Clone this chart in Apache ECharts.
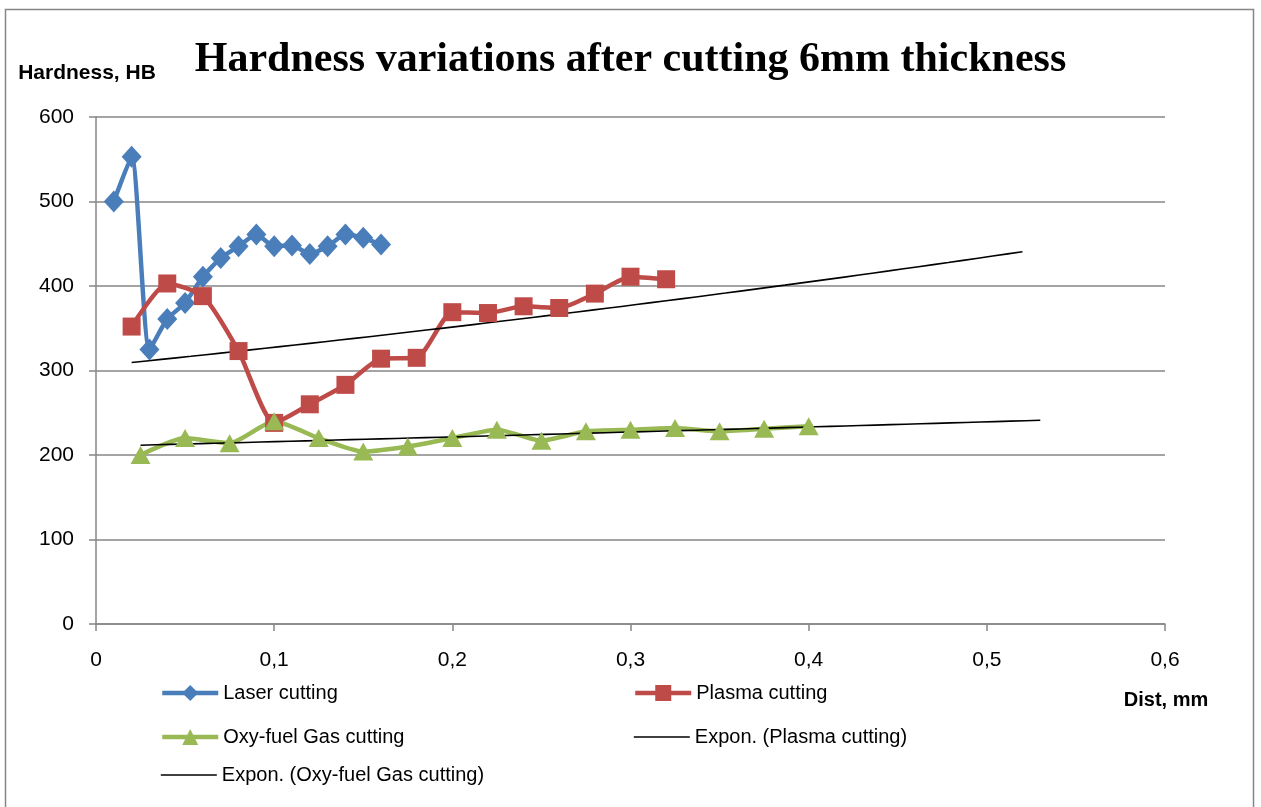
<!DOCTYPE html>
<html>
<head>
<meta charset="utf-8">
<script src="https://cdn.jsdelivr.net/npm/echarts@6/dist/echarts.min.js"></script>
<style>html,body{margin:0;padding:0;background:#fff;}#c{width:1261px;height:807px;}</style>
</head>
<body>
<div id="c"></div>
<script>
var titleText = 'Hardness variations after cutting 6mm thickness';
var yName = 'Hardness, HB';
var xName = 'Dist, mm';
var seriesNames = ['Laser cutting', 'Plasma cutting', 'Oxy-fuel Gas cutting', 'Expon. (Plasma cutting)', 'Expon. (Oxy-fuel Gas cutting)'];

var laserX = [0.01,0.02,0.03,0.04,0.05,0.06,0.07,0.08,0.09,0.10,0.11,0.12,0.13,0.14,0.15,0.16];
var laserY = [500,553,325,361,380,411,433,447,461,447,448,438,447,461,457,449];

var plasmaX = [0.02,0.04,0.06,0.08,0.10,0.12,0.14,0.16,0.18,0.20,0.22,0.24,0.26,0.28,0.30,0.32];
var plasmaY = [352,403,388,323,238,260,283,314,315,369,368,376,374,391,411,408];

var oxyX = [0.025,0.05,0.075,0.10,0.125,0.15,0.175,0.20,0.225,0.25,0.275,0.30,0.325,0.35,0.375,0.40];
var oxyY = [200,220,214,240,220,204,210,220,230,217,228,230,232,228,231,234];

// trendline forecast end points (as drawn by the spreadsheet)
var plasmaTrendEnd = 0.52;
var oxyTrendEnd = 0.53;

function pairs(xs, ys){ return xs.map(function(x,i){ return [x, ys[i]]; }); }

// exponential least-squares fit (ln y = ln a + b x)
function expFit(xs, ys, xEnd){
  var n = xs.length, sx=0, sy=0, sxx=0, sxy=0;
  for (var i=0;i<n;i++){ var ly=Math.log(ys[i]); sx+=xs[i]; sy+=ly; sxx+=xs[i]*xs[i]; sxy+=xs[i]*ly; }
  var b = (n*sxy - sx*sy)/(n*sxx - sx*sx);
  var lnA = (sy - b*sx)/n;
  var x0 = xs[0], pts=[], steps=60;
  for (var k=0;k<=steps;k++){ var x = x0 + (xEnd-x0)*k/steps; pts.push([x, Math.exp(lnA + b*x)]); }
  return pts;
}

var FONT = 'Liberation Sans, Arial, sans-serif';
var chart = echarts.init(document.getElementById('c'), null, {renderer:'canvas'});

function leg(name, left, top, isTrend){
  return {
    data: [isTrend ? {name: name, itemStyle: {opacity: 0}} : name],
    left: left, top: top, orient: 'horizontal', padding: 0,
    itemWidth: 56, itemHeight: 20, itemGap: 5,
    lineStyle: {width: isTrend ? 1.6 : 4.5},
    textStyle: {fontFamily: FONT, fontSize: 20, color: '#000'},
    selectedMode: false
  };
}

var option = {
  backgroundColor: '#fff',
  animation: false,
  title: {
    text: titleText, left: 'center', top: 34,
    textStyle: {fontFamily: 'Liberation Serif, Times New Roman, serif', fontWeight: 'bold', fontSize: 42, color: '#000'}
  },
  graphic: [{
    type: 'rect', shape: {x: 5.5, y: 9.5, width: 1248, height: 820},
    style: {fill: 'none', stroke: '#868686', lineWidth: 1.5}, silent: true, z: -1
  }],
  legend: [
    leg(seriesNames[0], 160, 683, false),
    leg(seriesNames[1], 633, 683, false),
    leg(seriesNames[2], 160, 727, false),
    leg(seriesNames[3], 633, 727, true),
    leg(seriesNames[4], 160, 765, true)
  ],
  grid: {left: 96, right: 96, top: 117, bottom: 183, containLabel: false},
  xAxis: {
    type: 'value', min: 0, max: 0.6, interval: 0.1,
    name: xName, nameLocation: 'end', nameGap: 1,
    nameTextStyle: {fontFamily: FONT, fontSize: 20, fontWeight: 'bold', color: '#000', align: 'center', verticalAlign: 'top', padding: [66,0,0,0]},
    axisLine: {show: true, lineStyle: {color: '#868686', width: 1.5}},
    axisTick: {show: true, length: 7, lineStyle: {color: '#868686', width: 1.5}},
    axisLabel: {fontFamily: FONT, fontSize: 21, color: '#000', margin: 26,
      formatter: function(v){ return String(Math.round(v*10)/10).replace('.', ','); }},
    splitLine: {show: false}
  },
  yAxis: {
    type: 'value', min: 0, max: 600, interval: 100,
    name: yName, nameLocation: 'end', nameGap: 33,
    nameTextStyle: {fontFamily: FONT, fontSize: 21, fontWeight: 'bold', color: '#000', align: 'center', padding: [0, 18, 0, 0]},
    axisLine: {show: true, lineStyle: {color: '#868686', width: 1.5}},
    axisTick: {show: true, length: 7, lineStyle: {color: '#868686', width: 1.5}},
    axisLabel: {fontFamily: FONT, fontSize: 21, color: '#000', margin: 22},
    splitLine: {show: true, lineStyle: {color: '#868686', width: 1.5}}
  },
  series: [
    {
      name: seriesNames[0], type: 'line', data: pairs(laserX, laserY), smooth: 0.2,
      symbol: 'diamond', symbolSize: [20, 22],
      lineStyle: {color: '#4A7EBB', width: 4.5}, itemStyle: {color: '#4A7EBB'}
    },
    {
      name: seriesNames[1], type: 'line', data: pairs(plasmaX, plasmaY), smooth: 0.2,
      symbol: 'rect', symbolSize: 18,
      lineStyle: {color: '#BE4B48', width: 4.5}, itemStyle: {color: '#BE4B48'}
    },
    {
      name: seriesNames[2], type: 'line', data: pairs(oxyX, oxyY), smooth: 0.2,
      symbol: 'triangle', symbolSize: [20, 18],
      lineStyle: {color: '#98B954', width: 4.5}, itemStyle: {color: '#98B954'}
    },
    {
      name: seriesNames[3], type: 'line', data: expFit(plasmaX, plasmaY, plasmaTrendEnd),
      symbol: 'none', lineStyle: {color: '#000', width: 1.6}, itemStyle: {color: '#000'}
    },
    {
      name: seriesNames[4], type: 'line', data: expFit(oxyX, oxyY, oxyTrendEnd),
      symbol: 'none', lineStyle: {color: '#000', width: 1.6}, itemStyle: {color: '#000'}
    }
  ]
};
chart.setOption(option);
</script>
</body>
</html>
